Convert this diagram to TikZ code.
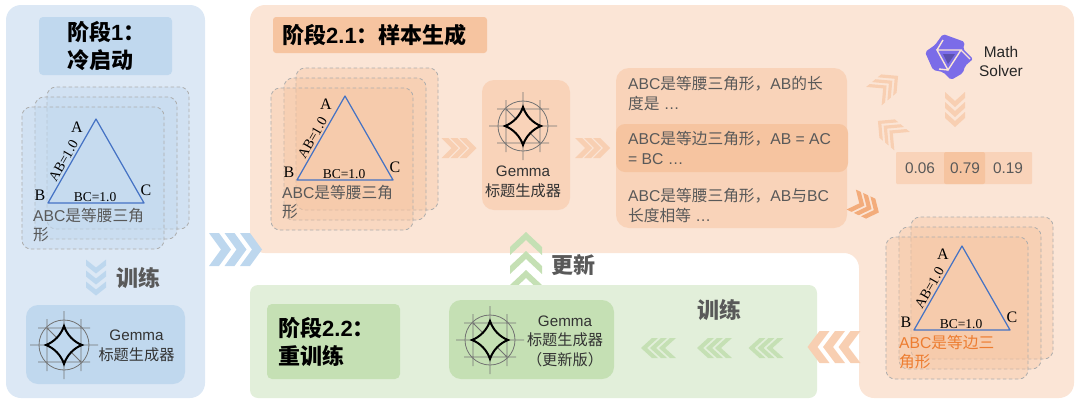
\documentclass[tikz,border=0pt]{standalone}
\usepackage{fontspec}
\usepackage{xcolor}
\usetikzlibrary{shapes,arrows,positioning,calc}
\setmainfont{Liberation Sans}
\newfontfamily\cjk{Noto Sans CJK SC}
\newfontfamily\trifont{Liberation Serif}
\newcommand{\zh}[1]{{\cjk #1}}
\definecolor{bluepanel}{HTML}{DCE8F5}
\definecolor{bluebox}{HTML}{C0D8EE}
\definecolor{bluechev}{HTML}{BDD7EE}
\definecolor{orangepanel}{HTML}{FBE5D6}
\definecolor{orangebox}{HTML}{F9D3B9}
\definecolor{orangedark}{HTML}{F6C4A0}
\definecolor{orangechev}{HTML}{F8CFB2}
\definecolor{orangetext}{HTML}{ED7D31}
\definecolor{greenpanel}{HTML}{E2EFDA}
\definecolor{greenbox}{HTML}{C5E0B4}
\definecolor{graytext}{HTML}{595959}
\definecolor{trianglecol}{HTML}{4472C4}
\definecolor{solvercol}{HTML}{7B6CE8}
\tikzset{
  box/.style={rectangle, rounded corners=#1, inner sep=0pt},
  box/.default=6pt,
  title/.style={font=\fontsize{22}{27.5}\selectfont\bfseries, text=black, align=left, anchor=west, inner sep=0pt},
  gemmatext/.style={font=\fontsize{15.2}{19.5}\selectfont, text=black!80, align=center},
  sampletext/.style={font=\fontsize{15.7}{20}\selectfont, text=graytext, align=left, anchor=west, inner sep=0pt},
  verb/.style={font=\fontsize{22}{24}\selectfont\bfseries, text=graytext},
  score/.style={font=\fontsize{15.4}{18}\selectfont, text=graytext},
  pics/gemmaicon/.style={code={
    \draw[black!55, line width=0.8pt] (0,0) circle (25);
    \draw[black!55, line width=0.8pt] (-34,0) -- (-18,0) (18,0) -- (34,0) (0,-34) -- (0,-19) (0,19) -- (0,34)
      (-26,-17) -- (26,-17) (-26,17) -- (26,17)
      (-17,-26) -- (-17,26) (17,-26) -- (17,26) (-17,-17) -- (-7,-7) (7,7) -- (17,17);
    \draw[black, line width=2pt, line join=miter, fill=#1]
      (0,-19) .. controls (3,-10) and (10,-3) .. (18,0)
      .. controls (10,3) and (3,10) .. (0,19)
      .. controls (-3,10) and (-10,3) .. (-18,0)
      .. controls (-10,-3) and (-3,-10) .. (0,-19) -- cycle;
  }},
  pics/tricard/.style n args={4}{code={
    \foreach \dx/\dy in {25/-20,13/-10,0/0}
      \draw[fill=#1, fill opacity=0.38, draw=black!32, line width=0.8pt, dash pattern=on 3.5pt off 2.5pt, rounded corners=9pt]
        (\dx,\dy) rectangle ++(142,142);
    \begin{scope}[shift={(#4)}]
    \node[inner sep=0pt] (-apex) at (74,9) {};
    \node[inner sep=0pt] (-left) at (26,93) {};
    \node[inner sep=0pt] (-right) at (122,93) {};
    \draw[trianglecol, line width=1.2pt, line join=round] (-apex.center) -- (-left.center) -- (-right.center) -- cycle;
    \node[font=\fontsize{16}{16}\trifont] (-a) at (55,17.5) {A};
    \node[font=\fontsize{16}{16}\trifont] (-b) at (18,85) {B};
    \node[font=\fontsize{16}{16}\trifont] (-c) at (124,80.5) {C};
    \node[font=\fontsize{13.5}{13.5}\trifont] (-bc) at (73,87) {BC=1.0};
    \node[font=\fontsize{14}{14}\trifont, rotate=60] (-ab) at (41.5,51) {AB=1.0};
    \node[font=\fontsize{15.7}{19}\selectfont, text=#2, align=left, anchor=north west, inner sep=0pt] (-label) at (11,98) {#3};
    \end{scope}
  }},
  pics/solverlogo/.style={code={
    \fill[solvercol, rounded corners=2pt] (-5,-23) -- (17,-15) -- (15,-8) -- (25,2) -- (17,9) -- (15,16)
      -- (3,23) -- (-5,15) -- (-15,13) -- (-23,-5) -- (-13,-12) -- cycle;
    \draw[orangepanel, line width=1.4pt, line join=miter] (-11,-7) -- (13,-7) -- (0,13) -- cycle
      (-11,-7) -- (-5,-17) (13,-7) -- (22,2) (0,13) -- (-9,12);
    \fill[solvercol!75!black] (-5,-3) -- (7,-3) -- (0,7) -- cycle;
  }}
}
% row of filled chevrons pointing right, centred at the given point
\newcommand{\chevrons}[7]{%
  \begin{scope}[shift={(#2)},#1]
    \pgfmathsetmacro{\startx}{-((#3-1)*#4+#5+#6)/2}
    \foreach \i in {1,...,#3}
      \fill[xshift={(\startx+(\i-1)*#4)*1pt}] (0,-#7) -- (#5,-#7) -- ({#5+#6},0) -- (#5,#7) -- (0,#7) -- (#6,0) -- cycle;
  \end{scope}}

\begin{document}
\begin{tikzpicture}[x=1pt, y=-1pt]
\useasboundingbox (0,0) rectangle (1080,405);

% Stage 1
\fill[bluepanel, rounded corners=15pt] (6,5) rectangle (205,398);
\node[box=4pt, fill=bluebox, minimum width=133pt, minimum height=58pt] (coldtitlebox) at (105.5,46) {};
\node[title] (coldtitle) at (67,46) {\zh{阶段}1\zh{：}\\\zh{冷启动}};
\pic (coldcard) at (22,107) {tricard={bluebox}{graytext}{ABC\zh{是等腰三角}\\\zh{形}}{0,3}};
\chevrons{bluechev, rotate=-90}{96,277.5}{3}{11}{6}{8}{10}
\node[verb] (coldtrain) at (138,278) {\zh{训练}};
\node[box=12pt, fill=bluebox, minimum width=159pt, minimum height=79pt] (coldgemma) at (105.5,344.5) {};
\pic (coldicon) at (64,345) {gemmaicon=bluebox};
\node[gemmatext] (coldname) at (136.5,345.8) {Gemma\\\zh{标题生成器}};

% Stage 2.1
\fill[orangepanel, rounded corners=15pt] (250,5) -- (1074,5) -- (1074,398) -- (859,398) -- (859,253) -- (250,253) -- cycle;
\node[box=3pt, fill=orangedark, minimum width=214pt, minimum height=36pt] (gentitlebox) at (380,35) {};
\node[title] (gentitle) at (282,35) {\zh{阶段}2.1\zh{：样本生成}};
\pic (gencard) at (271,88) {tricard={orangedark}{graytext}{ABC\zh{是等腰三角}\\\zh{形}}{0,-1}};
\chevrons{orangechev}{459,148}{3}{9}{7}{10}{10}
\node[box=12pt, fill=orangebox, minimum width=88pt, minimum height=130pt] (gengemma) at (526,145) {};
\pic (genicon) at (523,126) {gemmaicon=orangebox};
\node[gemmatext] (genname) at (523,182) {Gemma\\\zh{标题生成器}};
\chevrons{orangechev}{592.5,148}{3}{9}{7}{10}{10}
\node[box=13pt, fill=orangebox, minimum width=231pt, minimum height=160pt] (samples) at (731.5,148) {};
\node[box=9pt, fill=orangedark, minimum width=232pt, minimum height=48pt] (samplebest) at (732,148) {};
\node[sampletext] (sampleone) at (628,93) {ABC\zh{是等腰三角形，}AB\zh{的长}\\\zh{度是} …};
\node[sampletext] (sampletwo) at (628,148) {ABC\zh{是等边三角形，}AB = AC\\= BC …};
\node[sampletext] (samplethree) at (628,205) {ABC\zh{是等腰三角形，}AB\zh{与}BC\\\zh{长度相等} …};
\chevrons{orangechev, rotate=40}{886,86}{3}{7.5}{4.5}{12}{12}
\chevrons{orangechev, rotate=140}{890,131}{3}{7.5}{4.5}{12}{12}
\chevrons{orangetext!55!orangepanel, rotate=-25}{865,206}{3}{8}{5.5}{9}{11}
\pic (solvericon) at (948,57) {solverlogo};
\node[font=\fontsize{15.4}{19}\selectfont, text=black!85, align=center] (solver) at (1001,61.5) {Math\\Solver};
\chevrons{orangechev, rotate=-90}{955,109.5}{3}{10}{6}{9}{10}
\node[box=1pt, fill=orangebox, minimum width=136pt, minimum height=32pt] (scores) at (964,168) {};
\node[box=2pt, fill=orangedark, minimum width=41pt, minimum height=32pt] (scorebest) at (964.5,168) {};
\node[score] (scorea) at (920,168) {0.06};
\node[score] (scoreb) at (965,168) {0.79};
\node[score] (scorec) at (1008,168) {0.19};
\pic (bestcard) at (886,237) {tricard={orangedark}{orangetext}{ABC\zh{是等边三}\\\zh{角形}}{2,0}};

% Stage 2.2
\chevrons{greenbox, rotate=90}{526,262.5}{3}{19}{8}{15}{16}
\fill[greenpanel, rounded corners=8pt] (250,285) rectangle (817,398);
\node[verb] (update) at (573,265) {\zh{更新}};
\node[box=5pt, fill=greenbox, minimum width=133pt, minimum height=75pt] (retraintitlebox) at (333.5,341.5) {};
\node[title] (retraintitle) at (278,342) {\zh{阶段}2.2\zh{：}\\\zh{重训练}};
\node[box=12pt, fill=greenbox, minimum width=165pt, minimum height=79pt] (retraingemma) at (531.5,339.5) {};
\pic (retrainicon) at (490,340) {gemmaicon=greenbox};
\node[gemmatext] (retrainname) at (565,341) {Gemma\\\zh{标题生成器}\\\zh{（更新版）}};
\node[verb] (retraintrain) at (719,310) {\zh{训练}};
\foreach \cx in {658.5,714.5,766} {
  \chevrons{greenbox, rotate=180}{\cx,348}{3}{9}{6}{11}{10}
}

% Stage arrows
\chevrons{bluechev}{235.5,249.5}{3}{15.5}{10}{12}{16.5}
\chevrons{orangechev, rotate=180}{834,347}{3}{15.5}{10}{12}{16}
\end{tikzpicture}
\end{document}
